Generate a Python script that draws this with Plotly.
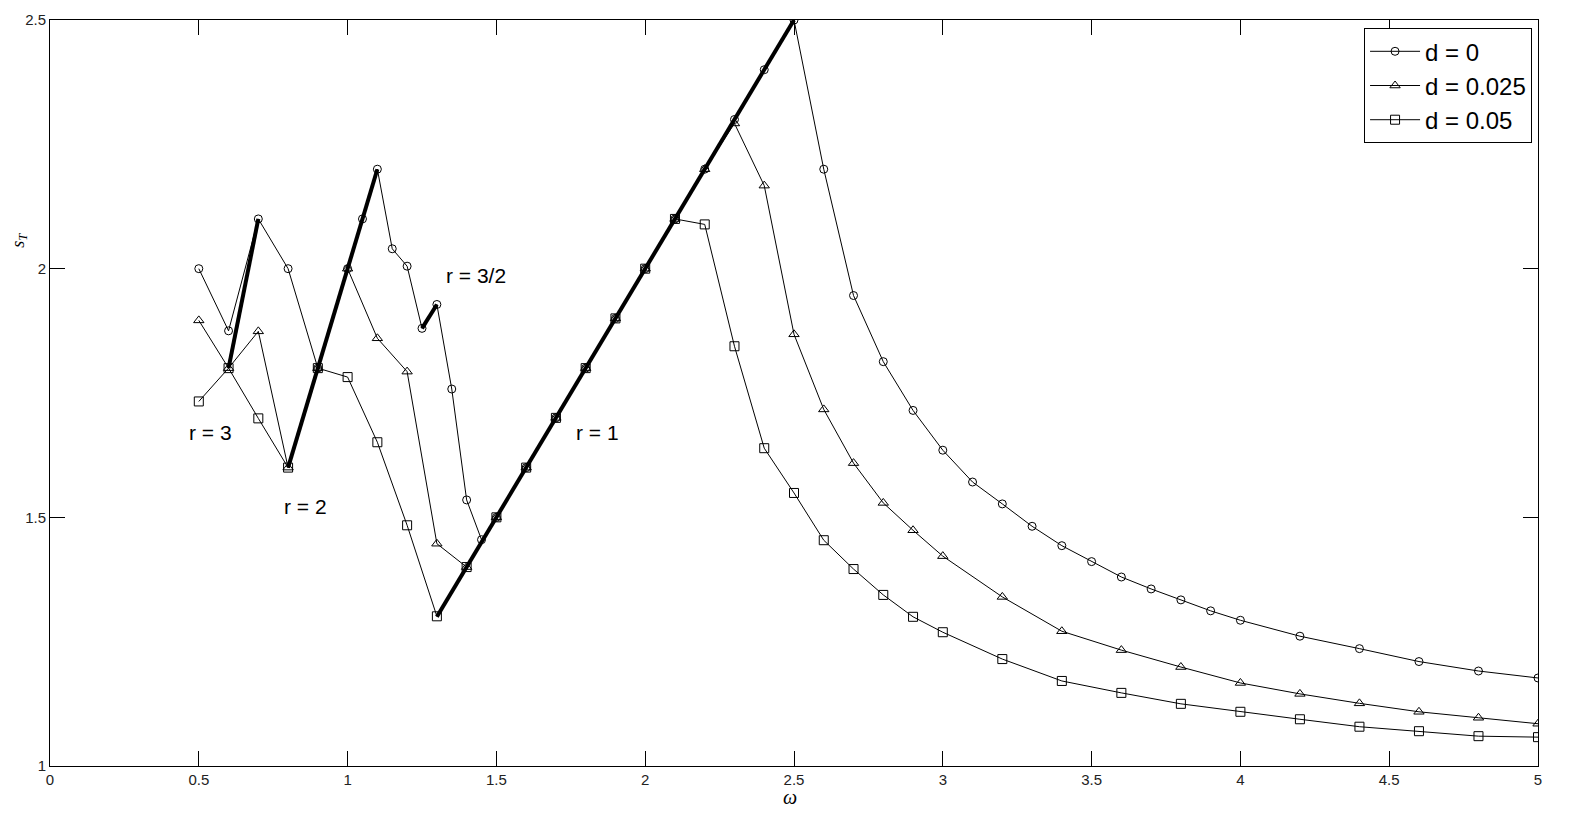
import plotly.graph_objects as go

# d = 0 (circles)
w0 = [0.5, 0.6, 0.7, 0.8, 0.9, 1.0, 1.05, 1.1, 1.15, 1.2, 1.25, 1.3, 1.35, 1.4, 1.45,
      1.5, 1.6, 1.7, 1.8, 1.9, 2.0, 2.1, 2.2, 2.3, 2.4, 2.5,
      2.6, 2.7, 2.8, 2.9, 3.0, 3.1, 3.2, 3.3, 3.4, 3.5, 3.6, 3.7, 3.8, 3.9, 4.0,
      4.2, 4.4, 4.6, 4.8, 5.0]
s0 = [2.0, 1.875, 2.1, 2.0, 1.8, 2.0, 2.1, 2.2, 2.04, 2.005, 1.88, 1.928, 1.758, 1.535, 1.455,
      1.5, 1.6, 1.7, 1.8, 1.9, 2.0, 2.1, 2.2, 2.3, 2.4, 2.5,
      2.2, 1.946, 1.813, 1.715, 1.635, 1.571, 1.527, 1.482, 1.443, 1.411, 1.380, 1.356, 1.334, 1.312, 1.293,
      1.261, 1.236, 1.210, 1.191, 1.177]

# d = 0.025 (triangles)
w1 = [0.5, 0.6, 0.7, 0.8, 0.9, 1.0, 1.1, 1.2, 1.3, 1.4,
      1.5, 1.6, 1.7, 1.8, 1.9, 2.0, 2.1, 2.2, 2.3, 2.4, 2.5,
      2.6, 2.7, 2.8, 2.9, 3.0, 3.2, 3.4, 3.6, 3.8, 4.0, 4.2, 4.4, 4.6, 4.8, 5.0]
s1 = [1.896, 1.8, 1.874, 1.6, 1.8, 2.0, 1.86, 1.793, 1.447, 1.4,
      1.5, 1.6, 1.7, 1.8, 1.9, 2.0, 2.1, 2.2, 2.292, 2.167, 1.868,
      1.717, 1.609, 1.529, 1.474, 1.422, 1.340, 1.271, 1.233, 1.199, 1.167, 1.145, 1.126, 1.109, 1.097, 1.085]

# d = 0.05 (squares)
w2 = [0.5, 0.6, 0.7, 0.8, 0.9, 1.0, 1.1, 1.2, 1.3,
      1.4, 1.5, 1.6, 1.7, 1.8, 1.9, 2.0, 2.1, 2.2, 2.3, 2.4, 2.5,
      2.6, 2.7, 2.8, 2.9, 3.0, 3.2, 3.4, 3.6, 3.8, 4.0, 4.2, 4.4, 4.6, 4.8, 5.0]
s2 = [1.733, 1.8, 1.699, 1.6, 1.8, 1.782, 1.651, 1.484, 1.301,
      1.4, 1.5, 1.6, 1.7, 1.8, 1.9, 2.0, 2.1, 2.089, 1.844, 1.639, 1.549,
      1.454, 1.396, 1.344, 1.300, 1.269, 1.215, 1.171, 1.147, 1.125, 1.109, 1.094, 1.079, 1.070, 1.060, 1.058]

# bold resonance segments (r = 3, 2, 3/2, 1)
bold_w = [[0.6, 0.7], [0.8, 1.1], [1.25, 1.3], [1.3, 2.5]]
bold_s = [[1.8, 2.1], [1.6, 2.2], [1.88, 1.928], [1.3, 2.5]]

label_text = ["r = 3", "r = 2", "r = 3/2", "r = 1"]
label_w = [0.538, 0.86, 1.431, 1.841]
label_s = [1.671, 1.522, 1.987, 1.671]

fig = go.Figure()

for bw, bs in zip(bold_w, bold_s):
    fig.add_trace(go.Scatter(x=bw, y=bs, mode="lines", line=dict(color="black", width=4),
                             showlegend=False, hoverinfo="skip"))

series = [("d = 0", w0, s0, "circle-open", 8),
          ("d = 0.025", w1, s1, "triangle-up-open", 9),
          ("d = 0.05", w2, s2, "square-open", 9)]
for name, w, s, sym, sz in series:
    fig.add_trace(go.Scatter(x=w, y=s, mode="lines+markers", name=name,
                             line=dict(color="black", width=1),
                             marker=dict(symbol=sym, size=sz, color="black",
                                         line=dict(color="black", width=1))))

for t, x, y in zip(label_text, label_w, label_s):
    fig.add_annotation(x=x, y=y, text=t, showarrow=False,
                       font=dict(family="Liberation Sans, Arial", size=21, color="black"))

# y-axis label
fig.add_annotation(x=-0.021, y=0.705, xref="paper", yref="paper", xanchor="center", yanchor="middle",
                   text="<i>s</i><sub><i>T</i></sub>", showarrow=False, textangle=-90,
                   font=dict(family="Liberation Serif, Times New Roman", size=18, color="black"))
# x-axis label
fig.add_annotation(x=0.497, y=-0.0416, xref="paper", yref="paper", xanchor="center", yanchor="middle",
                   text="<i>ω</i>", showarrow=False, borderpad=0,
                   font=dict(family="Liberation Serif, Times New Roman", size=20, color="black"))

axis_common = dict(showgrid=False, zeroline=False, showline=True, linecolor="black",
                   linewidth=1, mirror="ticks", ticks="inside", ticklen=15,
                   tickcolor="black", tickwidth=1, automargin=False,
                   tickfont=dict(family="Liberation Sans, Arial", size=15, color="#222"))

fig.update_layout(
    width=1554, height=801,
    margin=dict(l=42, r=24, t=12, b=43),
    paper_bgcolor="white", plot_bgcolor="white",
    xaxis=dict(range=[0, 5], tickvals=[0, 0.5, 1, 1.5, 2, 2.5, 3, 3.5, 4, 4.5, 5],
               ticktext=["0", "0.5", "1", "1.5", "2", "2.5", "3", "3.5", "4", "4.5", "5"],
               **axis_common),
    yaxis=dict(range=[1, 2.5], tickvals=[1, 1.5, 2, 2.5], ticktext=["1", "1.5", "2", "2.5"],
               **axis_common),
    legend=dict(x=0.996, y=0.989, xanchor="right", yanchor="top",
                bgcolor="white", bordercolor="black", borderwidth=1,
                font=dict(family="Liberation Sans, Arial", size=24, color="black"),
                itemwidth=50, tracegroupgap=0),
)

fig.write_html("out.html")
